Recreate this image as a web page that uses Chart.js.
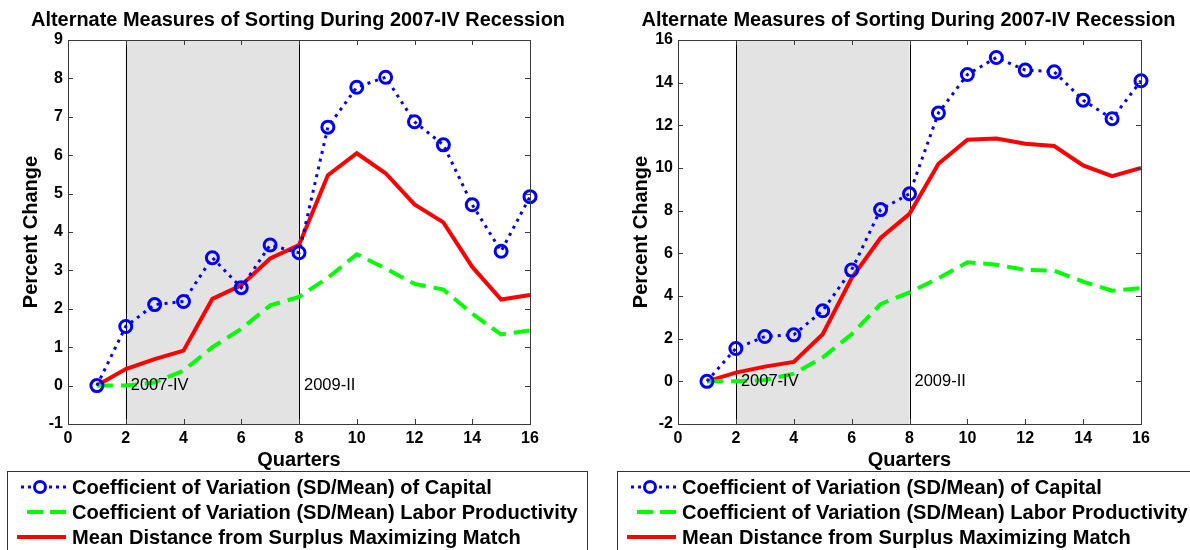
<!DOCTYPE html>
<html>
<head>
<meta charset="utf-8">
<script src="https://cdn.jsdelivr.net/npm/chart.js@4.4.0/dist/chart.umd.min.js"></script>
<style>
  html, body { margin: 0; padding: 0; background: #fff; }
  body { width: 1190px; height: 550px; position: relative; overflow: hidden; }
  canvas { position: absolute; top: 0; }
</style>
</head>
<body>
<canvas id="c1" width="600" height="550" style="left:0px"></canvas>
<canvas id="c2" width="580" height="550" style="left:610px"></canvas>
<script>
// ---- Data ----
const quarters = [1, 2, 3, 4, 5, 6, 7, 8, 9, 10, 11, 12, 13, 14, 15, 16];

const leftCapital = [0, 1.54, 2.11, 2.19, 3.33, 2.55, 3.66, 3.46, 6.73, 7.77, 8.03, 6.87, 6.27, 4.71, 3.50, 4.92];
const leftLabor   = [0, 0.00, 0.08, 0.39, 1.00, 1.48, 2.09, 2.31, 2.81, 3.42, 3.05, 2.65, 2.50, 1.87, 1.33, 1.44];
const leftDist    = [0, 0.43, 0.69, 0.91, 2.26, 2.61, 3.31, 3.66, 5.48, 6.05, 5.53, 4.72, 4.25, 3.09, 2.24, 2.36];

const rightCapital = [0, 1.54, 2.10, 2.18, 3.31, 5.22, 8.05, 8.79, 12.58, 14.38, 15.18, 14.59, 14.51, 13.18, 12.31, 14.09];
const rightLabor   = [0, 0.00, 0.06, 0.36, 1.12, 2.21, 3.62, 4.17, 4.84, 5.58, 5.47, 5.22, 5.19, 4.67, 4.25, 4.37];
const rightDist    = [0, 0.41, 0.69, 0.91, 2.21, 4.84, 6.72, 7.85, 10.20, 11.33, 11.38, 11.14, 11.03, 10.12, 9.62, 10.00];

const xTicksRange = [0, 16, 2];      // min, max, step
const leftYRange  = [-1, 9, 1];
const rightYRange = [-2, 16, 2];

const recession = [2, 8];
const recessionLabels = ['2007-IV', '2009-II'];

const chartTitle = 'Alternate Measures of Sorting During 2007-IV Recession';
const xTitle = 'Quarters';
const yTitle = 'Percent Change';
const seriesNames = [
  'Coefficient of Variation (SD/Mean) of Capital',
  'Coefficient of Variation (SD/Mean) Labor Productivity',
  'Mean Distance from Surplus Maximizing Match'
];

const FONT = '"Liberation Sans", Arial, Helvetica, sans-serif';
const BLUE = '#0000ff', GREEN = '#00ff00', RED = '#ff0000';

function fitFont(ctx, text, width, weight) {
  ctx.font = weight + ' 20px ' + FONT;
  const w = ctx.measureText(text).width;
  return 20 * width / w;
}

const matlabPlugin = {
  id: 'matlab',
  beforeDatasetsDraw(chart) {
    const { ctx, chartArea: a, scales: { x, y } } = chart;
    ctx.save();
    const x0 = x.getPixelForValue(recession[0]);
    const x1 = x.getPixelForValue(recession[1]);
    ctx.fillStyle = '#e3e3e3';
    ctx.fillRect(x0, a.top, x1 - x0, a.bottom - a.top);
    ctx.strokeStyle = '#000';
    ctx.lineWidth = 1;
    [x0, x1].forEach(px => {
      ctx.beginPath();
      ctx.moveTo(Math.round(px) + 0.5, a.top);
      ctx.lineTo(Math.round(px) + 0.5, a.bottom);
      ctx.stroke();
    });
    ctx.restore();
  },
  afterDatasetsDraw(chart) {
    const { ctx, scales: { x, y } } = chart;
    ctx.save();
    ctx.fillStyle = '#000';
    ctx.font = '16.5px ' + FONT;
    ctx.textAlign = 'left';
    ctx.textBaseline = 'middle';
    recession.forEach((v, i) => {
      ctx.fillText(recessionLabels[i], x.getPixelForValue(v) + 5, y.getPixelForValue(0));
    });
    ctx.restore();
  },
  afterDraw(chart) {
    const { ctx, chartArea: a, scales: { x, y } } = chart;
    ctx.save();
    // frame
    ctx.strokeStyle = '#3a3a3a';
    ctx.lineWidth = 1;
    ctx.strokeRect(Math.round(a.left) + 0.5, Math.round(a.top) + 0.5,
                   Math.round(a.right - a.left), Math.round(a.bottom - a.top));
    // inner ticks
    const tl = 5;
    ctx.beginPath();
    x.ticks.forEach(t => {
      const px = Math.round(x.getPixelForValue(t.value)) + 0.5;
      ctx.moveTo(px, a.bottom); ctx.lineTo(px, a.bottom - tl);
      ctx.moveTo(px, a.top); ctx.lineTo(px, a.top + tl);
    });
    y.ticks.forEach(t => {
      const py = Math.round(y.getPixelForValue(t.value)) + 0.5;
      ctx.moveTo(a.left, py); ctx.lineTo(a.left + tl, py);
      ctx.moveTo(a.right, py); ctx.lineTo(a.right - tl, py);
    });
    ctx.stroke();

    // title
    ctx.fillStyle = '#000';
    const cx = (a.left + a.right) / 2;
    const tfs = fitFont(ctx, chartTitle, 534, 'bold');
    ctx.font = 'bold ' + tfs.toFixed(2) + 'px ' + FONT;
    ctx.textAlign = 'center';
    ctx.textBaseline = 'middle';
    ctx.fillText(chartTitle, cx - 1, 20);
    // axis titles
    ctx.font = 'bold 20px ' + FONT;
    ctx.fillText(xTitle, cx, 460);
    ctx.save();
    ctx.translate(31, (a.top + a.bottom) / 2);
    ctx.rotate(-Math.PI / 2);
    ctx.fillText(yTitle, 0, 0);
    ctx.restore();

    // legend
    const bx = 7;
    ctx.strokeStyle = '#333';
    ctx.lineWidth = 1;
    ctx.strokeRect(bx + 0.5, 471.5, 580, 100);
    const rows = [487, 512, 537];
    const fs = fitFont(ctx, seriesNames[1], 506, 'bold');
    ctx.font = 'bold ' + fs.toFixed(2) + 'px ' + FONT;
    ctx.textAlign = 'left';
    ctx.textBaseline = 'middle';
    seriesNames.forEach((n, i) => ctx.fillText(n, 72, rows[i] + 1));
    // samples
    ctx.lineCap = 'butt';
    // blue dotted with marker
    ctx.strokeStyle = BLUE; ctx.lineWidth = 3; ctx.setLineDash([3, 4]);
    ctx.beginPath(); ctx.moveTo(21, rows[0]); ctx.lineTo(66, rows[0]); ctx.stroke();
    ctx.setLineDash([]);
    ctx.fillStyle = '#fff';
    ctx.beginPath(); ctx.arc(40, rows[0], 5.5, 0, Math.PI * 2); ctx.fill(); ctx.stroke();
    // green dashed
    ctx.strokeStyle = GREEN; ctx.lineWidth = 4; ctx.setLineDash([16, 7]);
    ctx.beginPath(); ctx.moveTo(27, rows[1]); ctx.lineTo(66, rows[1]); ctx.stroke();
    ctx.setLineDash([]);
    // red solid
    ctx.strokeStyle = RED; ctx.lineWidth = 4;
    ctx.beginPath(); ctx.moveTo(17, rows[2]); ctx.lineTo(66, rows[2]); ctx.stroke();
    ctx.restore();
  }
};

function makeChart(id, cap, lab, dist, yr) {
  const canvas = document.getElementById(id);
  const W = canvas.width;
  const plotRight = (id === 'c1') ? 530 : 531;
  return new Chart(canvas, {
    type: 'line',
    data: {
      labels: quarters,
      datasets: [
        {
          label: seriesNames[0],
          data: quarters.map((q, i) => ({ x: q, y: cap[i] })),
          borderColor: BLUE, borderWidth: 3, borderDash: [3, 5],
          pointRadius: 6, pointBorderWidth: 3, pointBorderColor: BLUE,
          pointBackgroundColor: 'rgba(255,255,255,0)', tension: 0, order: 1, clip: 8
        },
        {
          label: seriesNames[1],
          data: quarters.map((q, i) => ({ x: q, y: lab[i] })),
          borderColor: GREEN, borderWidth: 4, borderDash: [16, 8],
          pointRadius: 0, tension: 0, order: 2
        },
        {
          label: seriesNames[2],
          data: quarters.map((q, i) => ({ x: q, y: dist[i] })),
          borderColor: RED, borderWidth: 4,
          pointRadius: 0, tension: 0, order: 3
        }
      ]
    },
    options: {
      responsive: false,
      animation: false,
      devicePixelRatio: 1,
      layout: { padding: { top: 40, right: W - plotRight, left: 0, bottom: 0 } },
      plugins: { legend: { display: false }, tooltip: { enabled: false }, title: { display: false } },
      scales: {
        x: {
          type: 'linear', min: xTicksRange[0], max: xTicksRange[1],
          grid: { display: false, drawTicks: false },
          border: { display: false },
          ticks: { stepSize: xTicksRange[2], padding: 5, color: '#000',
                   font: { family: FONT, size: 16, weight: 'bold' }, maxRotation: 0 },
          afterFit: s => { s.height = 126; }
        },
        y: {
          type: 'linear', min: yr[0], max: yr[1],
          grid: { display: false, drawTicks: false },
          border: { display: false },
          ticks: { stepSize: yr[2], padding: 5, color: '#000',
                   font: { family: FONT, size: 16, weight: 'bold' } },
          afterFit: s => { s.width = 68; }
        }
      }
    },
    plugins: [matlabPlugin]
  });
}

makeChart('c1', leftCapital, leftLabor, leftDist, leftYRange);
makeChart('c2', rightCapital, rightLabor, rightDist, rightYRange);
</script>
</body>
</html>
